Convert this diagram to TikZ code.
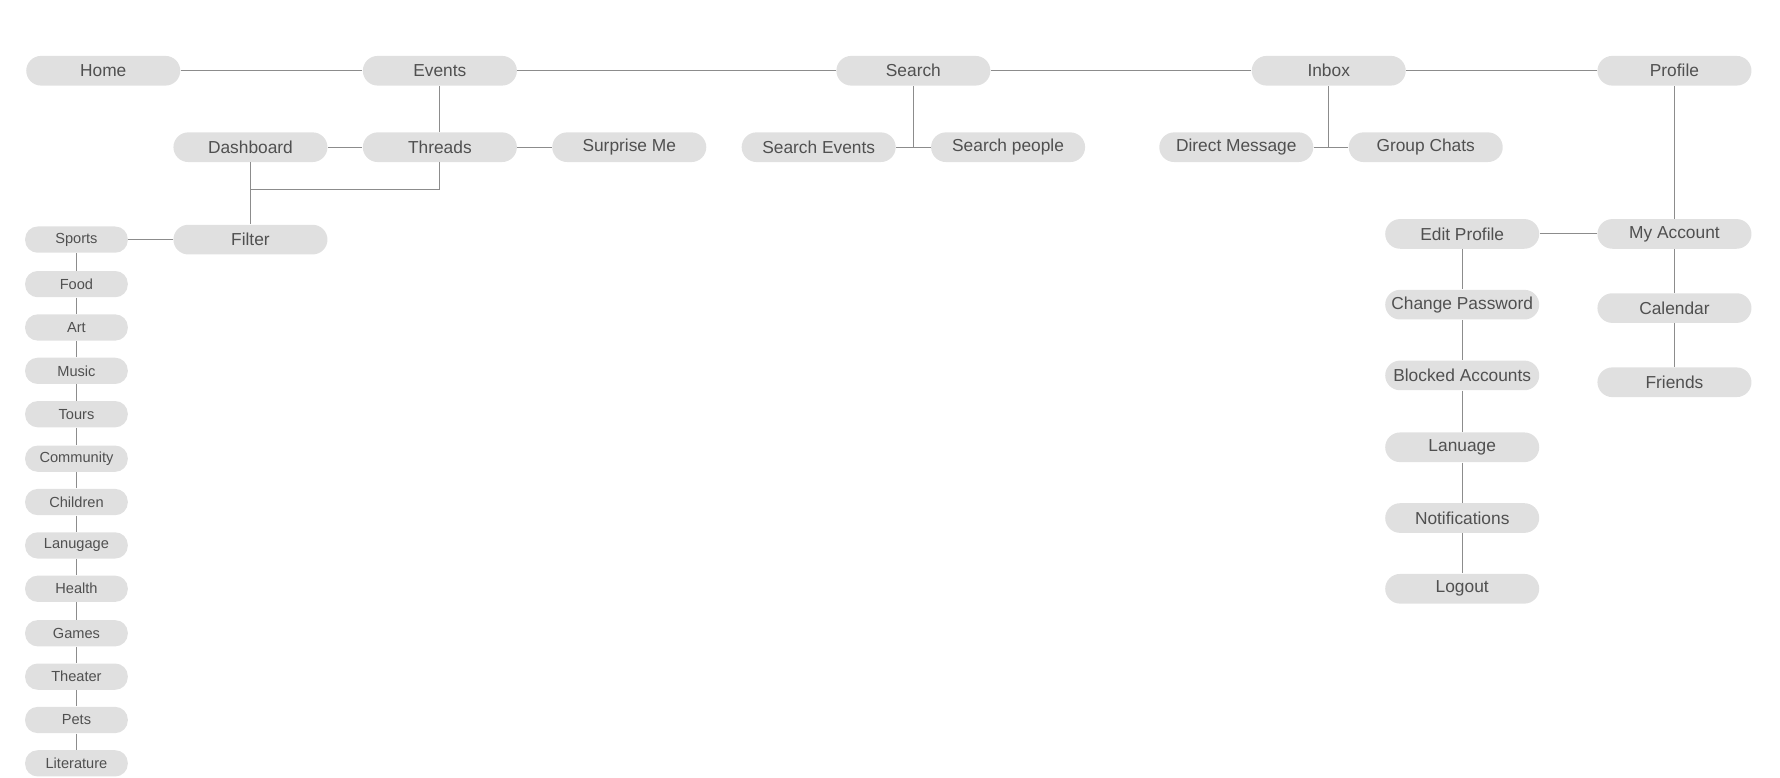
\documentclass[tikz,border=0pt]{standalone}
\usepackage{fontspec}
\setmainfont{Liberation Sans}
\begin{document}
\begin{tikzpicture}[x=0.5pt,y=-0.5pt,
 big/.style={fill=boxgray,rounded corners=6.5pt,minimum width=67.5pt,minimum height=13pt,inner sep=0pt,text=txtgray,font=\fontsize{7.6}{8}\selectfont},
 small/.style={fill=boxgray,rounded corners=5.5pt,minimum width=45pt,minimum height=11.5pt,inner sep=0pt,text=txtgray,font=\fontsize{6.4}{7}\selectfont},
 ln/.style={draw=linegray,line width=0.5pt}]
\definecolor{boxgray}{HTML}{E0E0E0}
\definecolor{txtgray}{HTML}{505050}
\definecolor{linegray}{HTML}{8C8C8C}
\useasboundingbox (0,0) rectangle (1560,681);
\node[big] (home) at (90.5,62) {Home};
\node[big] (events) at (385.5,62) {Events};
\node[big] (search) at (800.5,62) {Search};
\node[big] (inbox) at (1164.5,62) {Inbox};
\node[big] (profile) at (1467.5,62) {Profile};
\node[big] (dash) at (219.5,129) {Dashboard};
\node[big] (threads) at (385.5,129) {Threads};
\node[big] (surprise) at (551.5,129) {Surprise Me};
\node[big] (sevents) at (717.5,129) {Search Events};
\node[big] (speople) at (883.5,129) {Search people};
\node[big] (dm) at (1083.5,129) {Direct Message};
\node[big] (gc) at (1249.5,129) {Group Chats};
\node[big] (filter) at (219.5,210) {Filter};
\node[big] (edit) at (1281.5,205) {Edit Profile};
\node[big] (cpw) at (1281.5,267) {Change Password};
\node[big] (blocked) at (1281.5,329) {Blocked Accounts};
\node[big] (lang) at (1281.5,392) {Lanuage};
\node[big] (notif) at (1281.5,454) {Notifications};
\node[big] (logout) at (1281.5,516) {Logout};
\node[big] (myacc) at (1467.5,205) {My Account};
\node[big] (cal) at (1467.5,270) {Calendar};
\node[big] (friends) at (1467.5,335) {Friends};
\foreach \n/\t/\y in {c1/Sports/210,c2/Food/249,c3/Art/287,c4/Music/325,c5/Tours/363,c6/Community/402,c7/Children/440,c8/Lanugage/478,c9/Health/516,c10/Games/555,c11/Theater/593,c12/Pets/631,c13/Literature/669}
  \node[small] (\n) at (67,\y) {\t};
\draw[ln] (home) -- (events) -- (search) -- (inbox) -- (profile);
\draw[ln] (events) -- (threads);
\draw[ln] (dash) -- (threads) -- (surprise);
\draw[ln] (dash) -- (filter);
\draw[ln] (threads.south) |- (219.5,166);
\draw[ln] (filter) -- (c1);
\foreach \a/\b in {c1/c2,c2/c3,c3/c4,c4/c5,c5/c6,c6/c7,c7/c8,c8/c9,c9/c10,c10/c11,c11/c12,c12/c13}
  \draw[ln] (\a) -- (\b);
\draw[ln] (sevents) -- (speople);
\coordinate (sj) at (800.5,129);
\draw[ln] (search) -- (sj);
\draw[ln] (dm) -- (gc);
\coordinate (ij) at (1164.5,129);
\draw[ln] (inbox) -- (ij);
\draw[ln] (profile) -- (myacc);
\draw[ln] (edit) -- (myacc);
\draw[ln] (myacc) -- (cal) -- (friends);
\draw[ln] (edit) -- (cpw) -- (blocked) -- (lang) -- (notif) -- (logout);
\end{tikzpicture}
\end{document}
